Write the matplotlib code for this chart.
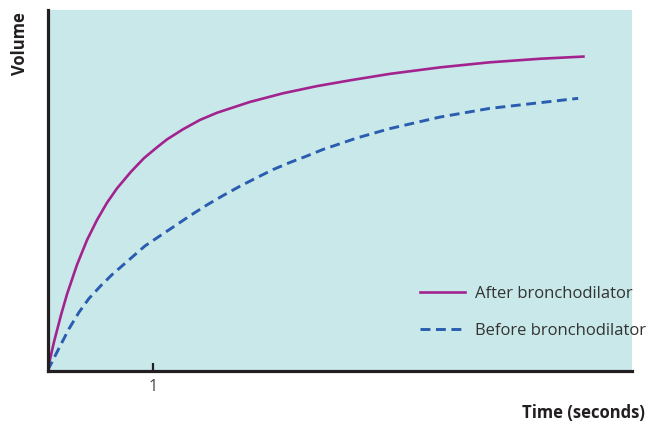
import matplotlib
matplotlib.use("Agg")
import matplotlib.pyplot as plt

plt.rcParams['font.family'] = ['Open Sans', 'DejaVu Sans']

# time (s) and volume (arbitrary units)
t_after = [0, 0.014, 0.062, 0.128, 0.185, 0.28, 0.374, 0.469, 0.564, 0.659,
           0.791, 0.915, 1.038, 1.133, 1.284, 1.445, 1.607, 1.919, 2.232,
           2.555, 2.867, 3.246, 3.72, 4.19, 4.67, 5.08]
v_after = [0, 0.09, 0.40, 0.77, 1.06, 1.47, 1.81, 2.09, 2.33, 2.53,
           2.76, 2.95, 3.10, 3.21, 3.35, 3.48, 3.58, 3.73, 3.85,
           3.95, 4.03, 4.12, 4.21, 4.28, 4.33, 4.36]

t_before = [0, 0.033, 0.109, 0.204, 0.299, 0.393, 0.507, 0.611, 0.744, 0.924,
            1.066, 1.209, 1.351, 1.512, 1.664, 1.825, 1.986, 2.137, 2.299,
            2.46, 2.611, 2.773, 2.934, 3.246, 3.72, 4.19, 4.67, 5.03]
v_before = [0, 0.09, 0.31, 0.58, 0.81, 1.00, 1.18, 1.33, 1.50, 1.73,
            1.87, 2.01, 2.15, 2.30, 2.43, 2.56, 2.68, 2.79, 2.89,
            2.98, 3.07, 3.15, 3.23, 3.36, 3.52, 3.64, 3.72, 3.78]

labels = ['After bronchodilator', 'Before bronchodilator']
xticks = [1]

fig = plt.figure(figsize=(6.48, 4.25), dpi=100)
ax = fig.add_axes([47.5/648, 54.5/425, 584.5/648, 360.5/425])
ax.set_facecolor('#c9e8ea')

ax.plot(t_after, v_after, color='#a3238e', lw=1.9, label=labels[0],
        solid_joinstyle='round')
ax.plot(t_before, v_before, color='#2a5db0', lw=2.1, dashes=(3.4, 1.9),
        label=labels[1], dash_joinstyle='round')

ax.set_xlim(0, 584.5/105.5)
ax.set_ylim(0, 360.5/72)

for s in ['top', 'right']:
    ax.spines[s].set_visible(False)
for s in ['left', 'bottom']:
    ax.spines[s].set_color('#231f20')
    ax.spines[s].set_linewidth(2.3)

ax.set_xticks(xticks)
ax.set_xticklabels([str(x) for x in xticks], fontsize=11.5, color='#444444')
ax.tick_params(axis='x', direction='in', length=6, width=1.6,
               color='#231f20', pad=6)
ax.set_yticks([])

leg = ax.legend(loc='lower right', bbox_to_anchor=(1.05, 0.045), frameon=False,
                fontsize=12, handlelength=2.7, handletextpad=0.6,
                labelspacing=1.3)
for txt in leg.get_texts():
    txt.set_color('#333333')

fig.text(20/648, 1 - 44/425, 'Volume', rotation=90, ha='center', va='center',
         fontsize=12, fontweight='bold', color='#231f20')
fig.text(645/648, 1 - 413/425, 'Time (seconds)', ha='right', va='center',
         fontsize=12, fontweight='bold', color='#231f20')

fig.savefig('out.png', dpi=100)
